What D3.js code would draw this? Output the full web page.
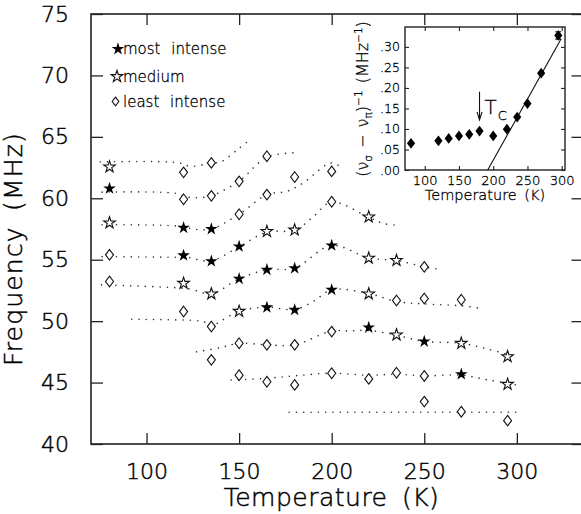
<!DOCTYPE html>
<html>
<head>
<meta charset="utf-8">
<script src="https://cdn.jsdelivr.net/npm/d3@7"></script>
<style>
  body { margin: 0; background: #fff; }
  svg { display: block; }
  text { font-family: "DejaVu Sans", sans-serif; font-weight: 200; fill: #000; stroke: #000; stroke-width: 0.45px; }
  .small text, text.small { stroke-width: 0.3px; }
</style>
</head>
<body>
<div id="chart"></div>
<script>
// --- main plot data: [temperature K, frequency MHz] ---
const mostIntense = [
  [80, 60.8], [120, 57.6], [120, 55.35], [135, 57.5], [135, 54.88],
  [150, 56.08], [150, 53.45], [165, 54.18], [165, 51.12], [180, 54.3],
  [180, 50.92], [200, 56.16], [200, 52.55], [220, 49.48], [250, 48.34],
  [270, 45.68]
];
const medium = [
  [80, 62.55], [80, 58.0], [120, 53.08], [135, 52.22], [150, 50.8],
  [165, 57.3], [180, 57.42], [220, 58.48], [220, 55.13], [220, 52.22],
  [235, 54.94], [235, 48.88], [270, 48.2], [295, 47.11], [295, 44.86]
];
const leastIntense = [
  [80, 55.4], [80, 53.23], [120, 62.11], [120, 59.92], [120, 50.78],
  [135, 62.88], [135, 60.2], [135, 49.56], [135, 46.85], [150, 61.38],
  [150, 58.7], [150, 48.2], [150, 45.6], [165, 63.42], [165, 60.3],
  [165, 48.07], [165, 45.07], [180, 61.73], [180, 48.07], [180, 44.81],
  [200, 62.19], [200, 59.72], [200, 49.15], [200, 45.76], [220, 45.3],
  [235, 51.68], [235, 45.8], [250, 54.42], [250, 51.84], [250, 45.54],
  [250, 43.45], [270, 51.74], [270, 42.63], [295, 41.9]
];

// dotted guide lines, one per branch
const branchA = [[75, 62.95], [117, 62.9], [124, 62.6], [135, 62.88], [140, 62.95], [149, 63.95], [156, 64.8]];
const branchB = [[76, 60.5], [116, 60.4], [122, 60.1], [128, 60.05], [135, 60.2], [150, 61.4], [165, 63.35], [180, 63.7]];
const branchC = [[76, 57.85], [116, 57.75], [122, 57.6], [128, 57.45], [135, 57.5], [150, 58.7], [165, 60.3], [175.6, 60.56], [184.6, 61.25], [197.2, 62.74], [200.8, 62.88], [204.4, 62.6]];
const branchD = [[76, 55.25], [116, 55.2], [122, 55.2], [128, 55.0], [135, 54.9], [150, 56.05], [165, 57.25], [180, 57.4], [190, 58.5], [200, 59.7], [220, 58.45], [228, 57.95], [235.5, 57.8]];
const branchE = [[75.7, 52.95], [116, 52.72], [124, 52.6], [135, 52.22], [150, 53.45], [165, 54.18], [180, 54.32], [200, 56.16], [220, 55.13], [235, 54.94], [250, 54.42], [260, 54.18]];
const branchF = [[92, 50.15], [126, 50.05], [131, 49.95], [135, 49.6], [140, 50.0], [150, 50.8], [165, 51.14], [180, 50.95], [190, 51.6], [200, 52.55], [220, 52.25], [235, 51.6], [250, 51.4], [270, 51.25], [280, 51.05]];
const branchG = [[127, 47.5], [140, 47.85], [150, 48.2], [165, 48.07], [180, 48.07], [200, 49.2], [210, 49.2], [220, 49.25], [235, 48.85], [250, 48.35], [270, 48.2], [285, 47.7], [300, 47.1]];
const branchH = [[145.7, 45.2], [165, 45.35], [180, 45.55], [200, 45.76], [220, 45.6], [235, 45.68], [250, 45.55], [270, 45.6], [285, 45.2], [300, 44.8]];
const branchI = [[177, 42.58], [300, 42.58]];
const branches = [branchA, branchB, branchC, branchD, branchE, branchF, branchG, branchH, branchI];

const xTicks = [100, 150, 200, 250, 300];
const yTicks = [40, 45, 50, 55, 60, 65, 70, 75];
const legendLabels = ["most intense", "medium", "least intense"];

// --- inset data ---
const insetTemps = [80, 120, 135, 150, 165, 180, 200, 220, 235, 250, 270, 295];
const insetValues = [0.065, 0.071, 0.077, 0.083, 0.087, 0.095, 0.083, 0.0995, 0.129, 0.162, 0.236, 0.328];
const insetErrors = [0, 0, 0, 0, 0, 0, 0, 0, 0, 0, 0, 0.009];
const fitTemps = [192, 299];
const fitValues = [0, 0.319];
const tcTemp = 180;
const tcArrow = [0.191, 0.122];
const insetXTicks = [100, 150, 200, 250, 300];
const insetYTicks = [0, 0.05, 0.10, 0.15, 0.20, 0.25, 0.30];

const W = 581, H = 514;
const frame = { left: 91, right: 583.5, top: 14, bottom: 444 };

const svg = d3.select("#chart").append("svg")
  .attr("width", W)
  .attr("height", H);

const x = d3.scaleLinear().domain([70, 336]).range([frame.left, frame.right]);
const y = d3.scaleLinear().domain([40, 75]).range([frame.bottom, frame.top]);

// --- axes (ticks point inwards on all four sides) ---
const noDomain = g => g.select(".domain").remove();

svg.append("g")
  .attr("transform", `translate(0,${frame.bottom})`)
  .call(d3.axisBottom(x).tickValues(xTicks).tickSize(-11).tickPadding(19))
  .call(noDomain)
  .attr("font-size", 22);

svg.append("g")
  .attr("transform", `translate(0,${frame.top})`)
  .call(d3.axisTop(x).tickValues(xTicks).tickSize(-11).tickFormat(""))
  .call(noDomain);

svg.append("g")
  .attr("transform", `translate(${frame.left},0)`)
  .call(d3.axisLeft(y).tickValues(yTicks).tickSize(-12).tickPadding(22))
  .call(noDomain)
  .attr("font-size", 22);

svg.append("g")
  .attr("transform", `translate(${frame.right},0)`)
  .call(d3.axisRight(y).tickValues(yTicks).tickSize(-12).tickFormat(""))
  .call(noDomain);

svg.selectAll(".tick line").attr("stroke", "#222").attr("stroke-width", 1.3);

svg.append("rect")
  .attr("x", frame.left)
  .attr("y", frame.top)
  .attr("width", frame.right - frame.left)
  .attr("height", frame.bottom - frame.top)
  .attr("fill", "none")
  .attr("stroke", "#222")
  .attr("stroke-width", 1.6);

// --- dotted guide lines ---
const line = d3.line()
  .x(d => x(d[0]))
  .y(d => y(d[1]))
  .curve(d3.curveCatmullRom.alpha(0.5));

svg.append("g")
  .selectAll("path")
  .data(branches)
  .join("path")
  .attr("d", line)
  .attr("fill", "none")
  .attr("stroke", "#333")
  .attr("stroke-width", 1.6)
  .attr("stroke-linecap", "round")
  .attr("stroke-dasharray", "0.01 7.3");

// --- markers ---
const tallDiamond = {
  draw(ctx, size) {
    const h = Math.sqrt(size) * 0.66, w = h * 0.76;
    ctx.moveTo(0, -h);
    ctx.lineTo(w, 0);
    ctx.lineTo(0, h);
    ctx.lineTo(-w, 0);
    ctx.closePath();
  }
};
const starPath = d3.symbol(d3.symbolStar, 50)();
const openStarPath = d3.symbol(d3.symbolStar, 42)();
const diamondPath = d3.symbol(tallDiamond, 64)();

const marks = svg.append("g");

marks.selectAll(".least")
  .data(leastIntense)
  .join("path")
  .attr("class", "least")
  .attr("transform", d => `translate(${x(d[0])},${y(d[1])})`)
  .attr("d", diamondPath)
  .attr("fill", "#fff")
  .attr("stroke", "#111")
  .attr("stroke-width", 1.1);

marks.selectAll(".medium")
  .data(medium)
  .join("path")
  .attr("class", "medium")
  .attr("transform", d => `translate(${x(d[0])},${y(d[1])})`)
  .attr("d", openStarPath)
  .attr("fill", "#fff")
  .attr("stroke", "#111")
  .attr("stroke-width", 1.1);

marks.selectAll(".most")
  .data(mostIntense)
  .join("path")
  .attr("class", "most")
  .attr("transform", d => `translate(${x(d[0])},${y(d[1])})`)
  .attr("d", starPath)
  .attr("fill", "#000");

// --- legend ---
const legend = svg.append("g").attr("class", "small");
const legendY = [49, 76.5, 101.5];
const legendSym = [
  { d: starPath, fill: "#000", stroke: "none", x: 118 },
  { d: openStarPath, fill: "#fff", stroke: "#111", x: 117 },
  { d: d3.symbol(tallDiamond, 44)(), fill: "#fff", stroke: "#111", x: 115.5 }
];
legendLabels.forEach((lab, i) => {
  legend.append("path")
    .attr("transform", `translate(${legendSym[i].x},${legendY[i]})`)
    .attr("d", legendSym[i].d)
    .attr("fill", legendSym[i].fill)
    .attr("stroke", legendSym[i].stroke)
    .attr("stroke-width", 1.1);
  legend.append("text")
    .attr("x", 123)
    .attr("y", legendY[i] + 5)
    .attr("font-size", 15)
    .attr("word-spacing", 6)
    .text(lab);
});

// axis titles
svg.append("text")
  .attr("x", 331.5)
  .attr("y", 506)
  .attr("text-anchor", "middle")
  .attr("font-size", 25)
  .attr("letter-spacing", 0.5)
  .attr("word-spacing", 6)
  .text("Temperature (K)");

svg.append("text")
  .attr("transform", "translate(22,132) rotate(-90)")
  .attr("text-anchor", "end")
  .attr("font-size", 25)
  .attr("letter-spacing", 1.2)
  .attr("word-spacing", 6)
  .text("Frequency (MHz)");

// --- inset ---
const inset = { left: 405, right: 565, top: 27, bottom: 170 };
const xi = d3.scaleLinear().domain([71.2, 304.8]).range([inset.left, inset.right]);
const yi = d3.scaleLinear().domain([0, 0.3485]).range([inset.bottom, inset.top]);

const ig = svg.append("g").attr("class", "small");

ig.append("rect")
  .attr("x", inset.left)
  .attr("y", inset.top)
  .attr("width", inset.right - inset.left)
  .attr("height", inset.bottom - inset.top)
  .attr("fill", "#fff");

const fmtInset = d => d3.format(".2f")(d).replace(/^0/, "");

ig.append("g")
  .attr("transform", `translate(0,${inset.bottom})`)
  .call(d3.axisBottom(xi).tickValues(insetXTicks).tickSize(-4).tickPadding(6))
  .call(noDomain)
  .attr("font-size", 13);

ig.append("g")
  .attr("transform", `translate(0,${inset.top})`)
  .call(d3.axisTop(xi).tickValues(insetXTicks).tickSize(-4).tickFormat(""))
  .call(noDomain);

ig.append("g")
  .attr("transform", `translate(${inset.left},0)`)
  .call(d3.axisLeft(yi).tickValues(insetYTicks).tickSize(-4).tickPadding(5).tickFormat(fmtInset))
  .call(noDomain)
  .attr("font-size", 12.5);

ig.append("g")
  .attr("transform", `translate(${inset.right},0)`)
  .call(d3.axisRight(yi).tickValues(insetYTicks).tickSize(-4).tickFormat(""))
  .call(noDomain);

ig.selectAll(".tick line").attr("stroke", "#222").attr("stroke-width", 1.1);

ig.append("rect")
  .attr("x", inset.left)
  .attr("y", inset.top)
  .attr("width", inset.right - inset.left)
  .attr("height", inset.bottom - inset.top)
  .attr("fill", "none")
  .attr("stroke", "#222")
  .attr("stroke-width", 1.4);

// linear fit
ig.append("path")
  .datum(d3.zip(fitTemps, fitValues))
  .attr("d", d3.line().x(d => xi(d[0])).y(d => yi(d[1])))
  .attr("stroke", "#111")
  .attr("stroke-width", 1.1)
  .attr("fill", "none");

const insetData = d3.zip(insetTemps, insetValues, insetErrors);

// error bars
ig.selectAll(".err")
  .data(insetData.filter(d => d[2] > 0))
  .join("path")
  .attr("class", "err")
  .attr("d", d => {
    const cx = xi(d[0]), y0 = yi(d[1] - d[2]), y1 = yi(d[1] + d[2]);
    return `M${cx},${y0}V${y1}M${cx - 3},${y0}H${cx + 3}M${cx - 3},${y1}H${cx + 3}`;
  })
  .attr("stroke", "#111")
  .attr("stroke-width", 1.1)
  .attr("fill", "none");

ig.selectAll(".pt")
  .data(insetData)
  .join("path")
  .attr("class", "pt")
  .attr("transform", d => `translate(${xi(d[0])},${yi(d[1])})`)
  .attr("d", d3.symbol(tallDiamond, 66)())
  .attr("fill", "#000");

// Tc arrow
const ax = xi(tcTemp), ay0 = yi(tcArrow[0]), ay1 = yi(tcArrow[1]);
ig.append("path")
  .attr("d", `M${ax},${ay0}V${ay1}M${ax - 2.5},${ay1 - 8}L${ax},${ay1}L${ax + 2.5},${ay1 - 8}`)
  .attr("stroke", "#111")
  .attr("stroke-width", 1.1)
  .attr("fill", "none");

const tc = ig.append("text")
  .attr("x", ax + 5)
  .attr("y", ay0 + 22)
  .attr("font-size", 20);
tc.append("tspan").text("T");
tc.append("tspan").attr("font-size", 13).attr("dx", 1).attr("dy", 6).text("C");

ig.append("text")
  .attr("x", (inset.left + inset.right) / 2)
  .attr("y", 200)
  .attr("text-anchor", "middle")
  .attr("font-size", 14.5)
  .attr("word-spacing", 3)
  .text("Temperature (K)");

// inset y title: (nu_sigma - nu_pi)^-1 (MHz^-1)
const yt = ig.append("text")
  .attr("transform", "translate(368,99) rotate(-90)")
  .attr("text-anchor", "middle")
  .attr("font-size", 16)
  .attr("word-spacing", 2);
yt.append("tspan").text("(\u03bd");
yt.append("tspan").attr("font-size", 10.5).attr("dy", 4).text("\u03c3");
yt.append("tspan").attr("dy", -4).text(" \u2212 \u03bd");
yt.append("tspan").attr("font-size", 10.5).attr("dy", 4).text("\u03c0");
yt.append("tspan").attr("dy", -4).text(")");
yt.append("tspan").attr("font-size", 10.5).attr("dy", -6).text("\u22121");
yt.append("tspan").attr("dy", 6).text(" (MHz");
yt.append("tspan").attr("font-size", 10.5).attr("dy", -6).text("\u22121");
yt.append("tspan").attr("dy", 6).text(")");
</script>
</body>
</html>
